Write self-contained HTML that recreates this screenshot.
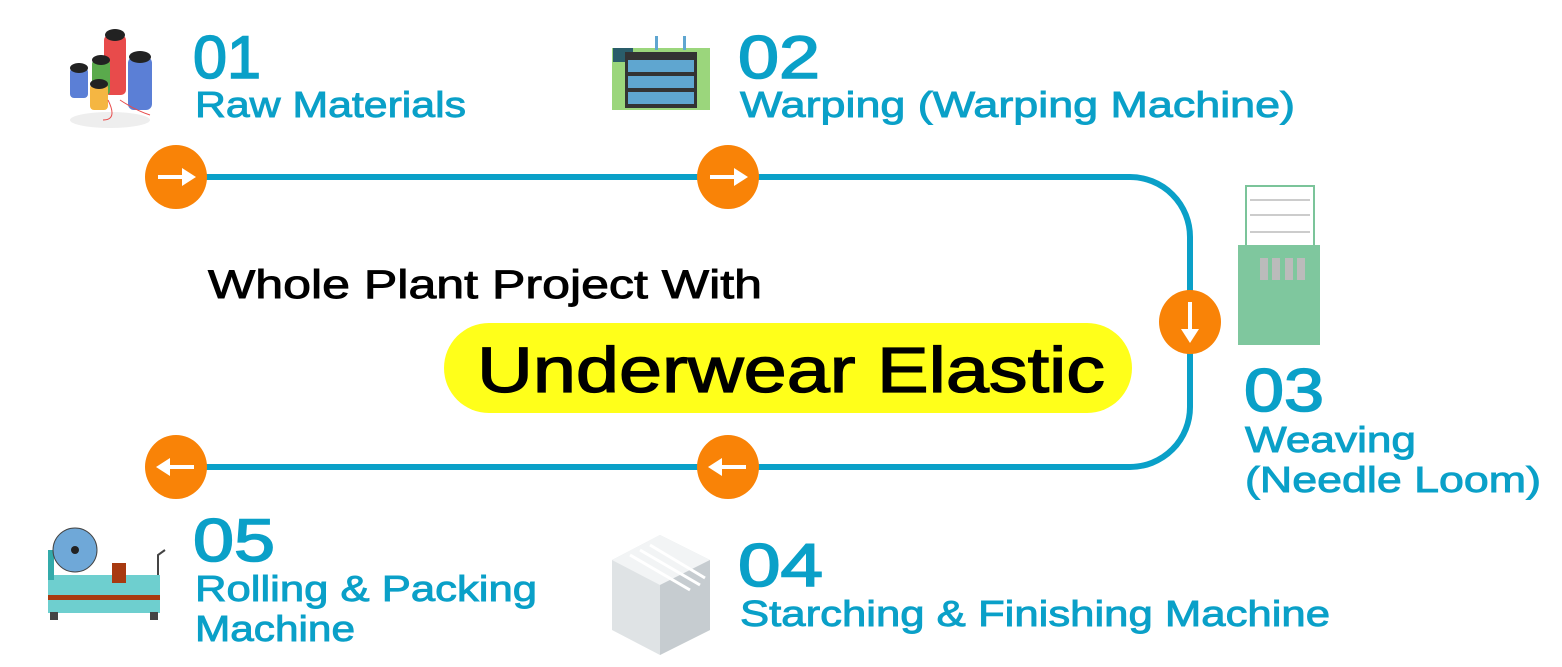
<!DOCTYPE html>
<html><head><meta charset="utf-8"><style>
html,body{margin:0;padding:0;background:#fff;}
svg{display:block;}
text{font-family:"Liberation Sans",sans-serif;}
.n{fill:#0aa0c8;font-size:60px;stroke:#0aa0c8;stroke-width:1.6px;}
.l{fill:#0aa0c8;font-size:36px;stroke:#0aa0c8;stroke-width:0.9px;}
.b{stroke:#000;stroke-width:0.9px;}
</style></head><body>
<svg width="1562" height="667" viewBox="0 0 1562 667" xmlns="http://www.w3.org/2000/svg">
<path d="M176 177 H1130 A60 60 0 0 1 1190 237 V407 A60 60 0 0 1 1130 467 H176" fill="none" stroke="#0aa0c8" stroke-width="6"/>
<g fill="#f98307">
<ellipse cx="176" cy="177" rx="31" ry="32"/>
<ellipse cx="728" cy="177" rx="31" ry="32"/>
<ellipse cx="1190" cy="322" rx="31" ry="32"/>
<ellipse cx="728" cy="467" rx="31" ry="32"/>
<ellipse cx="176" cy="467" rx="31" ry="32"/>
</g>
<g fill="#fff" stroke="#fff" stroke-width="4">
<path d="M158 177 H185" /><path d="M182 168 L196 177 L182 186 Z" stroke="none"/>
<path d="M710 177 H737" /><path d="M734 168 L748 177 L734 186 Z" stroke="none"/>
<path d="M1190 302 V332" /><path d="M1181 329 L1190 343 L1199 329 Z" stroke="none"/>
<path d="M746 467 H719" /><path d="M722 458 L708 467 L722 476 Z" stroke="none"/>
<path d="M194 467 H167" /><path d="M170 458 L156 467 L170 476 Z" stroke="none"/>
</g>
<text class="n" x="193" y="78" textLength="68" lengthAdjust="spacingAndGlyphs">01</text>
<text class="l" x="195" y="117" textLength="271" lengthAdjust="spacingAndGlyphs">Raw Materials</text>
<text class="n" x="738" y="78" textLength="82" lengthAdjust="spacingAndGlyphs">02</text>
<text class="l" x="740" y="117" textLength="555" lengthAdjust="spacingAndGlyphs">Warping (Warping Machine)</text>
<text class="n" x="1244" y="411" textLength="80" lengthAdjust="spacingAndGlyphs">03</text>
<text class="l" x="1245" y="452" textLength="171" lengthAdjust="spacingAndGlyphs">Weaving</text>
<text class="l" x="1245" y="492" textLength="296" lengthAdjust="spacingAndGlyphs">(Needle Loom)</text>
<text class="n" x="738" y="586" textLength="85" lengthAdjust="spacingAndGlyphs">04</text>
<text class="l" x="740" y="626" textLength="590" lengthAdjust="spacingAndGlyphs">Starching &amp; Finishing Machine</text>
<text class="n" x="193" y="561" textLength="82" lengthAdjust="spacingAndGlyphs">05</text>
<text class="l" x="195" y="601" textLength="342" lengthAdjust="spacingAndGlyphs">Rolling &amp; Packing</text>
<text class="l" x="195" y="641" textLength="160" lengthAdjust="spacingAndGlyphs">Machine</text>
<text class="b" x="208" y="298" font-size="40" fill="#000" textLength="554" lengthAdjust="spacingAndGlyphs">Whole Plant Project With</text>
<rect x="444" y="323" width="688" height="90" rx="45" fill="#ffff1a"/>
<text class="b" x="477" y="392" font-size="64" fill="#000" textLength="628" lengthAdjust="spacingAndGlyphs" style="stroke-width:1.3px">Underwear Elastic</text>
<g>
<ellipse cx="110" cy="120" rx="40" ry="8" fill="#eee"/>
<rect x="70" y="68" width="18" height="30" rx="4" fill="#5b7fd6"/><ellipse cx="79" cy="68" rx="9" ry="5" fill="#222"/>
<rect x="104" y="35" width="22" height="60" rx="5" fill="#e84b4b"/><ellipse cx="115" cy="35" rx="10" ry="6" fill="#222"/>
<rect x="92" y="60" width="18" height="35" rx="4" fill="#5aaa4c"/><ellipse cx="101" cy="60" rx="9" ry="5" fill="#222"/>
<rect x="128" y="57" width="24" height="53" rx="6" fill="#5b7fd6"/><ellipse cx="140" cy="57" rx="11" ry="6" fill="#222"/>
<rect x="90" y="84" width="18" height="26" rx="4" fill="#f5b642"/><ellipse cx="99" cy="84" rx="9" ry="5" fill="#222"/>
<path d="M108 100 q10 20 -5 20 M120 100 q15 10 30 15" stroke="#e84b4b" fill="none"/>
</g>
<g>
<rect x="612" y="48" width="98" height="62" fill="#9bd67c"/>
<rect x="613" y="48" width="20" height="14" fill="#2a5d6a"/>
<rect x="625" y="52" width="72" height="56" fill="#333"/>
<rect x="628" y="60" width="66" height="12" fill="#5fa6d0"/>
<rect x="628" y="76" width="66" height="12" fill="#5fa6d0"/>
<rect x="628" y="92" width="66" height="12" fill="#5fa6d0"/>
<rect x="655" y="36" width="3" height="14" fill="#5fa6d0"/><rect x="683" y="36" width="3" height="14" fill="#5fa6d0"/>
</g>
<g>
<rect x="1246" y="186" width="68" height="60" fill="none" stroke="#7bc49a" stroke-width="2"/>
<path d="M1250 200 H1310 M1250 215 H1310 M1250 232 H1310" stroke="#999" stroke-width="1"/>
<rect x="1238" y="245" width="82" height="100" fill="#7fc79e"/>
<rect x="1260" y="258" width="8" height="22" fill="#bbb"/><rect x="1272" y="258" width="8" height="22" fill="#bbb"/>
<rect x="1285" y="258" width="8" height="22" fill="#bbb"/><rect x="1297" y="258" width="8" height="22" fill="#bbb"/>
</g>
<g>
<polygon points="612,560 660,535 710,560 710,630 660,655 612,630" fill="#dfe3e5"/>
<polygon points="612,560 660,535 710,560 660,585" fill="#f2f4f5"/>
<polygon points="660,585 710,560 710,630 660,655" fill="#c6ccd0"/>
<path d="M630 555 L690 590 M640 550 L700 585 M650 545 L705 578" stroke="#fff" stroke-width="3"/>
</g>
<g>
<rect x="48" y="575" width="112" height="38" fill="#6ecfcf"/>
<rect x="48" y="595" width="112" height="5" fill="#a83a10"/>
<rect x="48" y="550" width="6" height="30" fill="#3aa"/>
<circle cx="75" cy="550" r="22" fill="#6fa8d8" stroke="#444" stroke-width="1"/>
<circle cx="75" cy="550" r="4" fill="#222"/>
<rect x="112" y="563" width="14" height="20" fill="#a83a10"/>
<rect x="50" y="612" width="8" height="8" fill="#444"/><rect x="150" y="612" width="8" height="8" fill="#444"/>
<path d="M158 575 V555 L165 550" stroke="#444" stroke-width="2" fill="none"/>
</g>
</svg>
</body></html>
